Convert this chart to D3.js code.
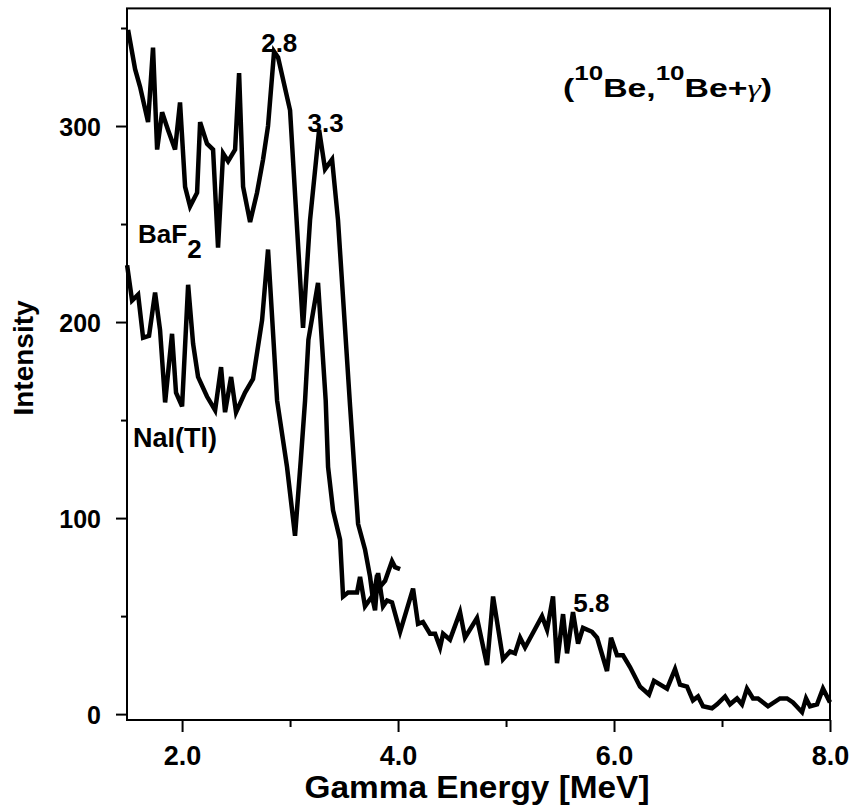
<!DOCTYPE html>
<html>
<head>
<meta charset="utf-8">
<script src="https://cdn.jsdelivr.net/npm/d3@7"></script>
<style>
	body { margin: 0; background: #fff; }
	text { font-family: "Liberation Sans", Arial, sans-serif; font-weight: bold; fill: #000; }
</style>
</head>
<body>
<script>
(function () {
	"use strict";

	// BaF2 spectrum (upper curve, stops near 4 MeV)
	let bafEnergy = [1.50, 1.565, 1.611, 1.685, 1.731, 1.769, 1.815, 1.870, 1.935, 1.981,
		2.028, 2.074, 2.139, 2.167, 2.231, 2.287, 2.333, 2.380, 2.426, 2.491,
		2.528, 2.565, 2.630, 2.694, 2.750, 2.796, 2.852, 2.889, 3.000, 3.120,
		3.185, 3.269, 3.324, 3.389, 3.444, 3.556, 3.630, 3.694, 3.741, 3.769,
		3.806, 3.833, 3.880, 3.944, 3.972, 4.019];
	let bafCounts = [349, 329, 320, 302, 340, 288, 307, 298, 288, 312,
		269, 259, 266, 302, 291, 288, 238, 286, 282, 288,
		327, 269, 251, 266, 283, 300, 338, 335, 308, 197,
		252, 298, 278, 283, 252, 157, 97, 84, 70, 58,
		71, 65, 68, 78, 75, 74];

	// NaI(Tl) spectrum (lower curve, full range)
	let naiEnergy = [1.491, 1.537, 1.593, 1.639, 1.694, 1.750, 1.796, 1.843, 1.907, 1.944,
		2.000, 2.056, 2.102, 2.148, 2.231, 2.306, 2.361, 2.398, 2.454, 2.500,
		2.583, 2.657, 2.741, 2.796, 2.880, 2.972, 3.046, 3.100, 3.139, 3.170,
		3.259, 3.330, 3.352, 3.398, 3.463, 3.491, 3.537, 3.620, 3.648, 3.694,
		3.759, 3.787, 3.815, 3.861, 3.898, 3.944, 4.019, 4.139, 4.185, 4.231,
		4.296, 4.343, 4.389, 4.417, 4.481, 4.574, 4.620, 4.731, 4.824, 4.880,
		4.972, 5.037, 5.083, 5.130, 5.176, 5.333, 5.380, 5.435, 5.472, 5.528,
		5.565, 5.620, 5.667, 5.713, 5.796, 5.843, 5.935, 5.972, 6.028, 6.083,
		6.148, 6.241, 6.324, 6.370, 6.491, 6.565, 6.611, 6.676, 6.731, 6.778,
		6.824, 6.907, 6.954, 7.028, 7.074, 7.139, 7.185, 7.231, 7.287, 7.333,
		7.426, 7.537, 7.602, 7.657, 7.741, 7.778, 7.815, 7.880, 7.935, 8.000];
	let naiCounts = [229, 211, 214, 192, 193, 215, 196, 159, 194, 164,
		157, 219, 189, 172, 162, 155, 177, 154, 172, 154,
		164, 171, 201, 237, 160, 126, 91, 130, 160, 191,
		220, 160, 126, 104, 89, 60, 62, 62, 70, 55,
		60, 53, 72, 55, 58, 57, 42, 64, 46, 47,
		41, 41, 34, 41, 38, 52, 39, 49, 25, 60,
		28, 32, 31, 39, 34, 50, 43, 60, 26, 51,
		31, 52, 36, 44, 42, 39, 22, 39, 30, 30,
		24, 14, 10, 17, 13, 23, 15, 14, 7, 9,
		4, 3, 5, 9, 5, 8, 5, 13, 8, 8,
		4, 8, 8, 6, 1, 8, 4, 5, 13, 6];

	let xMajor = [2, 4, 6, 8];
	let xMinor = [3, 5, 7];
	let yMajor = [0, 100, 200, 300];
	let yMinor = [50, 150, 250, 350];

	let peakLabels = ["2.8", "3.3", "5.8"];
	let peakEnergy = [2.90, 3.33, 5.79];
	let peakCounts = [338, 297, 52];

	let w = 851;
	let h = 809;
	let left = 127, right = 830, top = 8.4, bottom = 720;

	let svg = d3.select('body').append('svg')
		.attr('width', w)
		.attr('height', h);

	let x = d3.scaleLinear().domain([1.49, 8.0]).range([left, right]);
	let y = d3.scaleLinear().domain([-3, 360]).range([bottom, top]);

	// frame
	svg.append('rect')
		.attr('x', left).attr('y', top)
		.attr('width', right - left).attr('height', bottom - top)
		.attr('fill', 'none').attr('stroke', '#000').attr('stroke-width', 2);

	// y axis
	let yAx = svg.append('g').attr('transform', `translate(${left},0)`)
		.call(d3.axisLeft(y).tickValues(yMajor).tickSize(11).tickPadding(15).tickFormat(d3.format('d')));
	yAx.select('.domain').remove();
	yAx.selectAll('line').attr('stroke-width', 2);
	yAx.selectAll('text').attr('font-size', 25).attr('font-family', null).attr('dy', '0.36em');

	let yMin = svg.append('g').attr('transform', `translate(${left},0)`)
		.call(d3.axisLeft(y).tickValues(yMinor).tickSize(6).tickFormat(''));
	yMin.select('.domain').remove();
	yMin.selectAll('line').attr('stroke-width', 2);

	// x axis
	let xAx = svg.append('g').attr('transform', `translate(0,${bottom})`)
		.call(d3.axisBottom(x).tickValues(xMajor).tickSize(12).tickPadding(14).tickFormat(d3.format('.1f')));
	xAx.select('.domain').remove();
	xAx.selectAll('line').attr('stroke-width', 2);
	xAx.selectAll('text').attr('font-size', 27).attr('font-family', null);

	let xMin = svg.append('g').attr('transform', `translate(0,${bottom})`)
		.call(d3.axisBottom(x).tickValues(xMinor).tickSize(7).tickFormat(''));
	xMin.select('.domain').remove();
	xMin.selectAll('line').attr('stroke-width', 2);

	// axis titles
	svg.append('text')
		.attr('x', 477).attr('y', 798)
		.attr('text-anchor', 'middle')
		.attr('font-size', 31)
		.attr('textLength', 345).attr('lengthAdjust', 'spacingAndGlyphs')
		.text('Gamma Energy [MeV]');

	svg.append('text')
		.attr('transform', 'translate(33,358) rotate(-90)')
		.attr('text-anchor', 'middle')
		.attr('font-size', 28)
		.text('Intensity');

	// spectra
	let line = d3.line()
		.x((d) => x(d[0]))
		.y((d) => y(d[1]));

	let series = [
		d3.zip(bafEnergy, bafCounts),
		d3.zip(naiEnergy, naiCounts)
	];

	svg.selectAll('path.spec')
		.data(series)
		.enter()
		.append('path')
		.attr('class', 'spec')
		.attr('d', line)
		.attr('fill', 'none')
		.attr('stroke', '#000')
		.attr('stroke-width', 4.5)
		.attr('stroke-linejoin', 'miter');

	// peak labels
	svg.selectAll('text.peak')
		.data(peakLabels)
		.enter()
		.append('text')
		.attr('class', 'peak')
		.attr('x', (d, i) => x(peakEnergy[i]))
		.attr('y', (d, i) => y(peakCounts[i]))
		.attr('text-anchor', 'middle')
		.attr('font-size', 26)
		.text((d) => d);

	// detector labels
	let baf = svg.append('text')
		.attr('x', 138).attr('y', 243)
		.attr('font-size', 26);
	baf.append('tspan').text('BaF');
	baf.append('tspan').attr('dy', 15).text('2');

	svg.append('text')
		.attr('x', 133).attr('y', 447)
		.attr('font-size', 27)
		.text('NaI(Tl)');

	// reaction label
	let title = svg.append('text')
		.attr('x', 563).attr('y', 97)
		.attr('font-size', 26)
		.attr('textLength', 209).attr('lengthAdjust', 'spacingAndGlyphs');
	title.append('tspan').text('(');
	title.append('tspan').attr('font-size', 20).attr('dy', -17).text('10');
	title.append('tspan').attr('dy', 17).text('Be,');
	title.append('tspan').attr('font-size', 20).attr('dy', -17).text('10');
	title.append('tspan').attr('dy', 17).text('Be+');
	title.append('tspan')
		.style('font-family', '"Liberation Serif", serif')
		.style('font-style', 'italic')
		.style('font-weight', 'normal')
		.text('\u03b3');
	title.append('tspan').text(')');

})();
</script>
</body>
</html>
